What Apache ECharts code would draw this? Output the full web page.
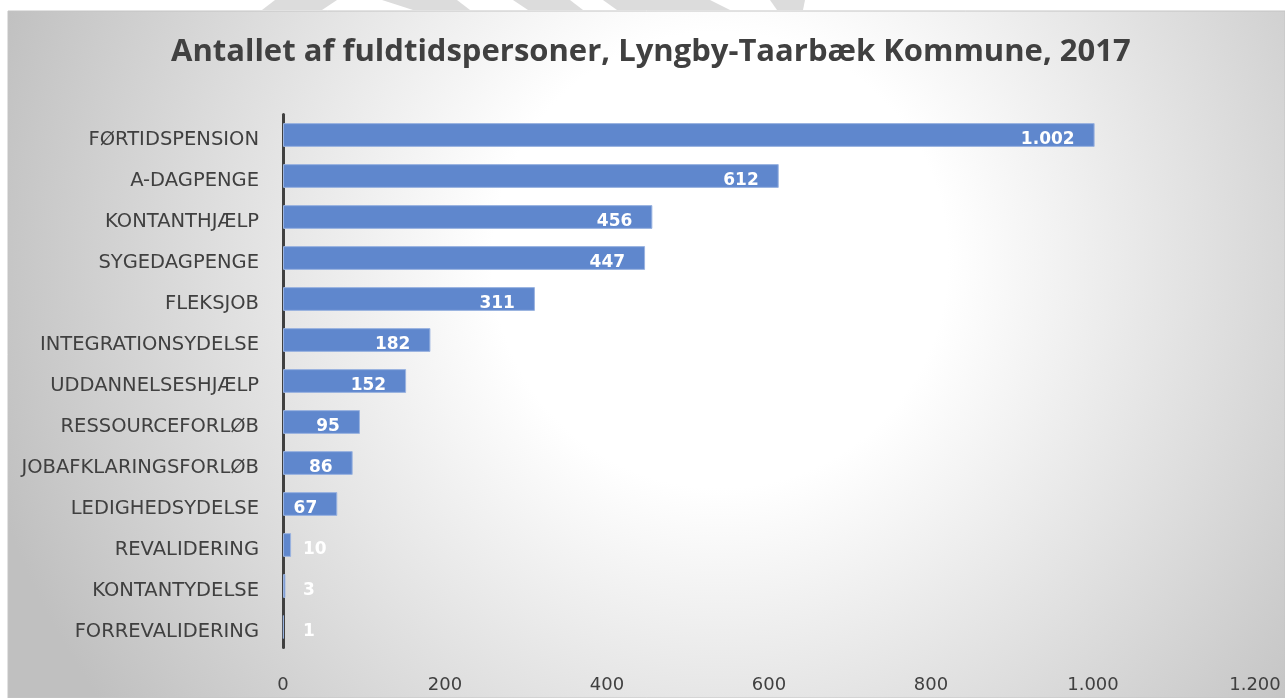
<!DOCTYPE html>
<html>
<head>
<meta charset="utf-8">
<script src="https://cdn.jsdelivr.net/npm/echarts@6/dist/echarts.min.js"></script>
<style>
  html, body { margin: 0; padding: 0; background: #fff; }
  #chart { width: 1285px; height: 698px; }
</style>
</head>
<body>
<div id="chart"></div>
<script>
var categories = ['FØRTIDSPENSION', 'A-DAGPENGE', 'KONTANTHJÆLP', 'SYGEDAGPENGE', 'FLEKSJOB',
    'INTEGRATIONSYDELSE', 'UDDANNELSESHJÆLP', 'RESSOURCEFORLØB', 'JOBAFKLARINGSFORLØB',
    'LEDIGHEDSYDELSE', 'REVALIDERING', 'KONTANTYDELSE', 'FORREVALIDERING'];
var values = [1002, 612, 456, 447, 311, 182, 152, 95, 86, 67, 10, 3, 1];
var titleText = 'Antallet af fuldtidspersoner, Lyngby-Taarbæk Kommune, 2017';

// tal med punktum som tusindtalsseparator
function fmt(v) {
    return String(v).replace(/\B(?=(\d{3})+(?!\d))/g, '.');
}

var chart = echarts.init(document.getElementById('chart'));

var barData = values.map(function (v) {
    var item = { value: v };
    if (v < 30) {
        item.label = { position: 'insideLeft', distance: 20 };
    }
    return item;
});

var grey = '#dcdcdc';
var option = {
    backgroundColor: '#ffffff',
    textStyle: { fontFamily: 'DejaVu Sans' },
    graphic: [
        {
            type: 'rect', z: -10, silent: true,
            shape: { x: 8, y: 11, width: 1277, height: 687 },
            style: {
                fill: new echarts.graphic.RadialGradient(720, 260, 760, [
                    { offset: 0, color: '#ffffff' },
                    { offset: 0.3, color: '#ffffff' },
                    { offset: 1, color: '#c0c0c0' }
                ], true),
                stroke: '#c4c4c4', lineWidth: 1
            }
        },
        { type: 'polygon', z: -10, silent: true, shape: { points: [[275, 0], [337, 0], [322, 10], [262, 10]] }, style: { fill: grey } },
        { type: 'polygon', z: -10, silent: true, shape: { points: [[382, 0], [457, 0], [470, 10], [413, 10]] }, style: { fill: grey } },
        { type: 'polygon', z: -10, silent: true, shape: { points: [[513, 0], [570, 0], [583, 10], [528, 10]] }, style: { fill: grey } },
        { type: 'polygon', z: -10, silent: true, shape: { points: [[603, 0], [710, 0], [730, 10], [617, 10]] }, style: { fill: grey } },
        { type: 'polygon', z: -10, silent: true, shape: { points: [[770, 0], [805, 0], [803, 10], [777, 10]] }, style: { fill: grey } }
    ],
    title: {
        text: titleText,
        left: 166,
        top: 32,
        textStyle: { fontSize: 31, fontWeight: 'bold', color: '#404040', fontFamily: 'Open Sans' }
    },
    grid: { left: 283, right: 30, top: 114.5, bottom: 50.5 },
    xAxis: {
        type: 'value',
        min: 0,
        max: 1200,
        interval: 200,
        axisLine: { show: false },
        axisTick: { show: false },
        splitLine: { show: false },
        axisLabel: {
            color: '#404040', fontSize: 18, margin: 29,
            formatter: function (v) { return fmt(v); }
        }
    },
    yAxis: {
        type: 'category',
        data: categories,
        inverse: true,
        axisLine: { show: true, lineStyle: { color: '#404040', width: 3 } },
        axisTick: { show: false },
        axisLabel: {
            color: '#404040', fontSize: 19.5, margin: 24,
            verticalAlign: 'top', lineHeight: 9
        }
    },
    series: [
        {
            type: 'bar',
            data: barData,
            barCategoryGap: '42%',
            itemStyle: { color: '#5f87cd', borderColor: '#9ab3e0', borderWidth: 1 },
            label: {
                show: true,
                position: 'insideRight',
                distance: 20,
                offset: [0, 5],
                color: '#ffffff',
                fontWeight: 'bold',
                fontSize: 17,
                formatter: function (p) { return fmt(p.value); }
            }
        }
    ]
};

chart.setOption(option);
</script>
</body>
</html>
